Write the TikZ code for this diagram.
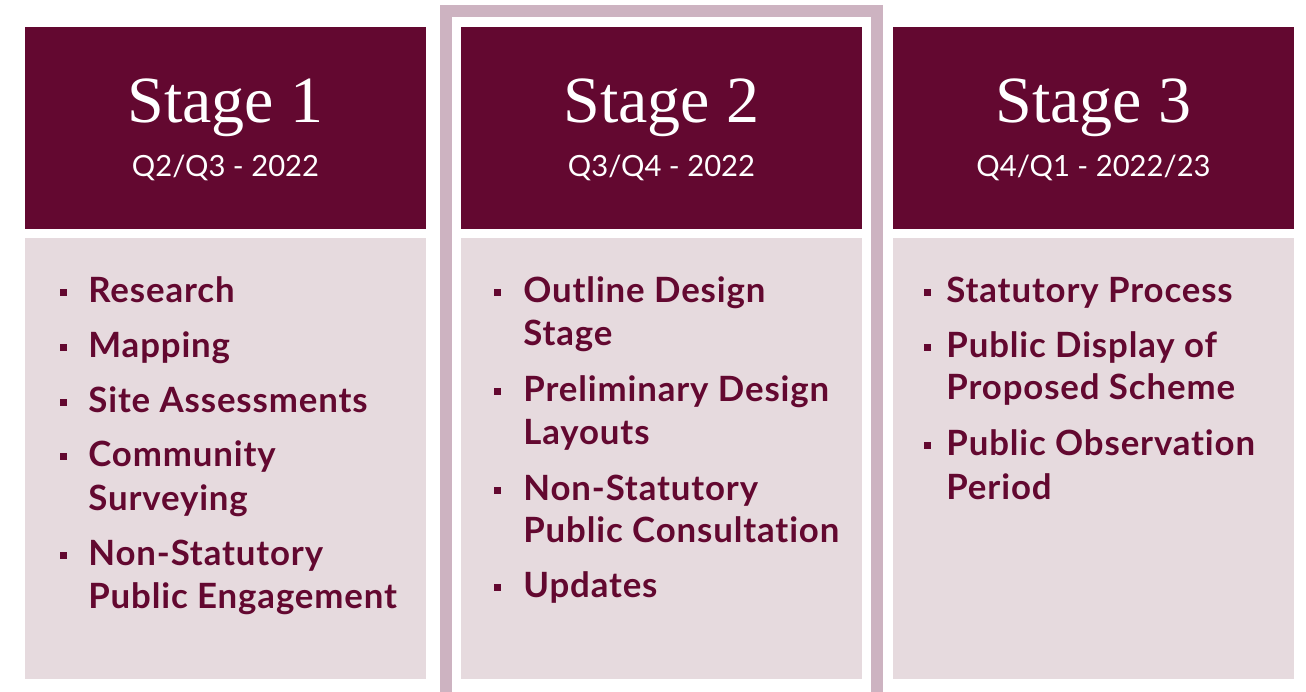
\documentclass[tikz,border=0pt]{standalone}
\usepackage{fontspec}
\setmainfont{Liberation Serif}
\newfontfamily\bulfont{Lato}[LetterSpace=2.5,Ligatures={NoCommon}]
\newfontfamily\subfont{Lato}
\definecolor{maroon}{HTML}{630830}
\definecolor{bodybg}{HTML}{E6DADE}
\definecolor{framec}{HTML}{CDB3C1}
\begin{document}
\begin{tikzpicture}[x=0.5pt,y=-0.5pt,
  hdr/.style={fill=maroon,draw=none,minimum width=200.5pt,minimum height=101pt,inner sep=0pt,anchor=north west},
  bodybox/.style={fill=bodybg,draw=none,minimum width=200.5pt,minimum height=220.5pt,inner sep=0pt,anchor=north west},
  ttl/.style={text=white,font=\fontsize{33}{40}\selectfont,anchor=base,inner sep=0pt},
  sub/.style={text=white,font=\subfont\fontsize{14.6}{18}\selectfont,anchor=base,inner sep=0pt},
  itm/.style={text=maroon,font=\bulfont\bfseries\fontsize{17.4}{20}\selectfont,anchor=base west,inner sep=0pt},
  bul/.style={fill=maroon,draw=none,minimum size=3.4pt,inner sep=0pt}]
\useasboundingbox (0,0) rectangle (1306,691);
\clip (0,0) rectangle (1306,691);
\fill[white] (0,0) rectangle (1306,691);
% stage 2 highlight frame
\draw[framec,line width=6pt] (446,11) rectangle (877,705);
% boxes
\node[hdr] (h1) at (25,27) {};
\node[hdr] (h2) at (461,27) {};
\node[hdr] (h3) at (893,27) {};
\node[bodybox] (b1) at (25,238) {};
\node[bodybox] (b2) at (461,238) {};
\node[bodybox] (b3) at (893,238) {};
% titles
\node[ttl] (t1) at (225.5,122) {Stage 1};
\node[sub] (s1) at (225.5,176) {Q2/Q3 - 2022};
\node[ttl] (t2) at (661.5,122) {Stage 2};
\node[sub] (s2) at (661.5,176) {Q3/Q4 - 2022};
\node[ttl] (t3) at (1093.5,122) {Stage 3};
\node[sub] (s3) at (1093.5,176) {Q4/Q1 - 2022/23};
% stage 1 items
\node[bul] (d11) at (63.5,292.5) {};
\node[itm] (i11) at (88,302) {Research};
\node[bul] (d12) at (63.5,347.5) {};
\node[itm] (i12) at (88,357) {Mapping};
\node[bul] (d13) at (63.5,402.5) {};
\node[itm] (i13) at (88,412) {Site Assessments};
\node[bul] (d14) at (63.5,456.5) {};
\node[itm] (i14a) at (88,466) {Community};
\node[itm] (i14b) at (88,510) {Surveying};
\node[bul] (d15) at (63.5,555.5) {};
\node[itm] (i15a) at (88,565) {Non-Statutory};
\node[itm] (i15b) at (88,608.5) {Public Engagement};
% stage 2 items
\node[bul] (d21) at (497.5,292.5) {};
\node[itm] (i21a) at (523,302) {Outline Design};
\node[itm] (i21b) at (523,345) {Stage};
\node[bul] (d22) at (497.5,391.5) {};
\node[itm] (i22a) at (523,401) {Preliminary Design};
\node[itm] (i22b) at (523,444) {Layouts};
\node[bul] (d23) at (497.5,490.5) {};
\node[itm] (i23a) at (523,500) {Non-Statutory};
\node[itm] (i23b) at (523,542.5) {Public Consultation};
\node[bul] (d24) at (497.5,587.5) {};
\node[itm] (i24) at (523,597) {Updates};
% stage 3 items
\node[bul] (d31) at (927.5,292.5) {};
\node[itm] (i31) at (946,302) {Statutory Process};
\node[bul] (d32) at (927.5,347.5) {};
\node[itm] (i32a) at (946,357) {Public Display of};
\node[itm] (i32b) at (946,399.5) {Proposed Scheme};
\node[bul] (d33) at (927.5,445.5) {};
\node[itm] (i33a) at (946,455) {Public Observation};
\node[itm] (i33b) at (946,499) {Period};
\end{tikzpicture}
\end{document}
